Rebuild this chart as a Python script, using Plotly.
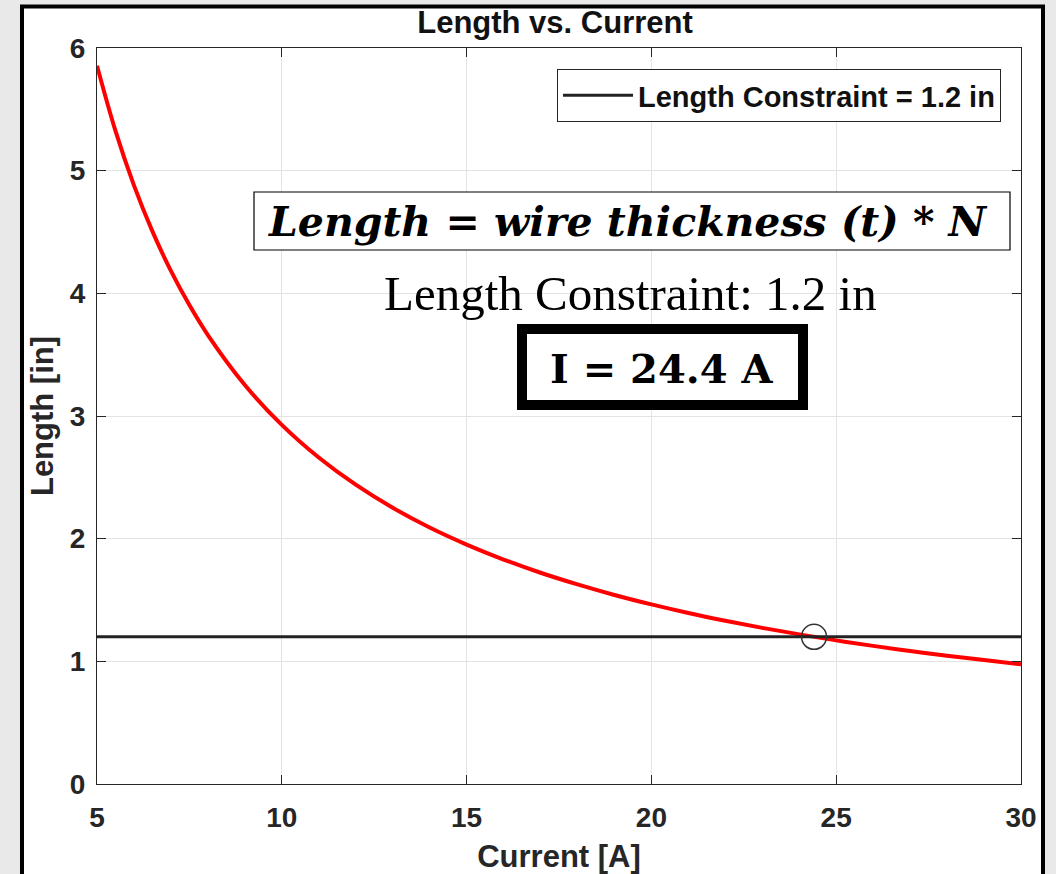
import plotly.graph_objects as go

# Data
current_A = [5, 5.5, 6, 6.5, 7, 7.5, 8, 9, 10, 11, 12, 13, 14, 15, 16, 17, 18, 19, 20,
             21, 22, 23, 24, 25, 26, 27, 28, 29, 30]
length_in = [5.856, 5.324, 4.880, 4.505, 4.183, 3.904, 3.660, 3.253, 2.928, 2.662, 2.440,
             2.252, 2.091, 1.952, 1.830, 1.722, 1.627, 1.541, 1.464, 1.394, 1.331, 1.273,
             1.220, 1.171, 1.126, 1.084, 1.046, 1.010, 0.976]
constraint_x = [5, 30]
constraint_y = [1.2, 1.2]
solution_x = [24.4]
solution_y = [1.2]
x_ticks = [5, 10, 15, 20, 25, 30]
y_ticks = [0, 1, 2, 3, 4, 5, 6]

W, H = 1056, 874
L, R, T, B = 97, 1021, 48, 784


def px(xp):
    return (xp - L) / (R - L)


def py(yp):
    return (B - yp) / (B - T)


AX = "#262626"
FS = 28
fig = go.Figure()
fig.add_trace(go.Scatter(x=current_A, y=length_in, mode="lines",
                         line=dict(color="#ff0000", width=4, shape="spline"), showlegend=False))
fig.add_trace(go.Scatter(x=constraint_x, y=constraint_y, mode="lines", line=dict(color="#222222", width=3),
                         name="Length Constraint = 1.2 in"))
fig.add_trace(go.Scatter(x=solution_x, y=solution_y, mode="markers",
                         marker=dict(symbol="circle-open", size=25, color="#333333", line=dict(width=1.5)),
                         showlegend=False))

shapes = [
    dict(type="rect", xref="paper", yref="paper", x0=px(22), x1=px(1043), y0=py(920), y1=py(6.5),
         line=dict(color="black", width=4), fillcolor="white", layer="below"),
    dict(type="rect", xref="paper", yref="paper", x0=px(254), x1=px(1010), y0=py(250), y1=py(192),
         line=dict(color="black", width=1.2), fillcolor="white", layer="above"),
    dict(type="rect", xref="paper", yref="paper", x0=px(522), x1=px(803), y0=py(405), y1=py(329),
         line=dict(color="black", width=10), fillcolor="white", layer="above"),
]

annotations = [
    dict(xref="paper", yref="paper", x=px(628), y=py(222), text="<b><i>Length = wire thickness (t) * N</i></b>",
         showarrow=False, font=dict(family="DejaVu Serif", size=41, color="black"), xanchor="center", yanchor="middle"),
    dict(xref="paper", yref="paper", x=px(630), y=py(293), text="Length Constraint: 1.2 in",
         showarrow=False, font=dict(family="Liberation Serif", size=49, color="black"), xanchor="center", yanchor="middle"),
    dict(xref="paper", yref="paper", x=px(661), y=py(368), text="<b>I = 24.4 A</b>",
         showarrow=False, font=dict(family="DejaVu Serif", size=40, color="black"), xanchor="center", yanchor="middle"),
]

axis_common = dict(showline=True, linecolor=AX, linewidth=1.3, mirror="ticks", ticks="inside", ticklen=9,
                   tickcolor=AX, tickwidth=1.3, showgrid=True, gridcolor="#e3e3e3", gridwidth=1, zeroline=False,
                   automargin=False,
                   tickfont=dict(family="Liberation Sans", size=FS, color=AX, weight="bold"))

fig.update_layout(
    width=W, height=H,
    margin=dict(l=L, r=W - R, t=T, b=H - B),
    paper_bgcolor="#e9e9e9",
    plot_bgcolor="rgba(0,0,0,0)",
    title=dict(text="Length vs. Current", xref="paper", x=px(555), xanchor="center", y=1 - 22.5 / H,
               yanchor="middle", automargin=False,
               font=dict(family="Liberation Sans", size=31, color="#111111", weight="bold")),
    xaxis=dict(range=[5, 30], tickvals=x_ticks, ticktext=[str(v) for v in x_ticks], ticklabelstandoff=8,
               title=dict(text="Current [A]", standoff=14,
                          font=dict(family="Liberation Sans", size=31, color=AX, weight="bold")),
               **axis_common),
    yaxis=dict(range=[0, 6], tickvals=y_ticks, ticktext=[str(v) for v in y_ticks], ticklabelstandoff=5,
               title=dict(text="Length [in]", standoff=6,
                          font=dict(family="Liberation Sans", size=31, color=AX, weight="bold")),
               **axis_common),
    legend=dict(x=px(1001), y=py(69), xanchor="right", yanchor="top", bgcolor="white", bordercolor="#262626",
                borderwidth=1, font=dict(family="Liberation Sans", size=29, color="#111111", weight="bold"),
                itemwidth=70),
    shapes=shapes,
    annotations=annotations,
)

fig.write_html("out.html", config={"displayModeBar": False},
               post_script="document.body.style.margin='0';")
